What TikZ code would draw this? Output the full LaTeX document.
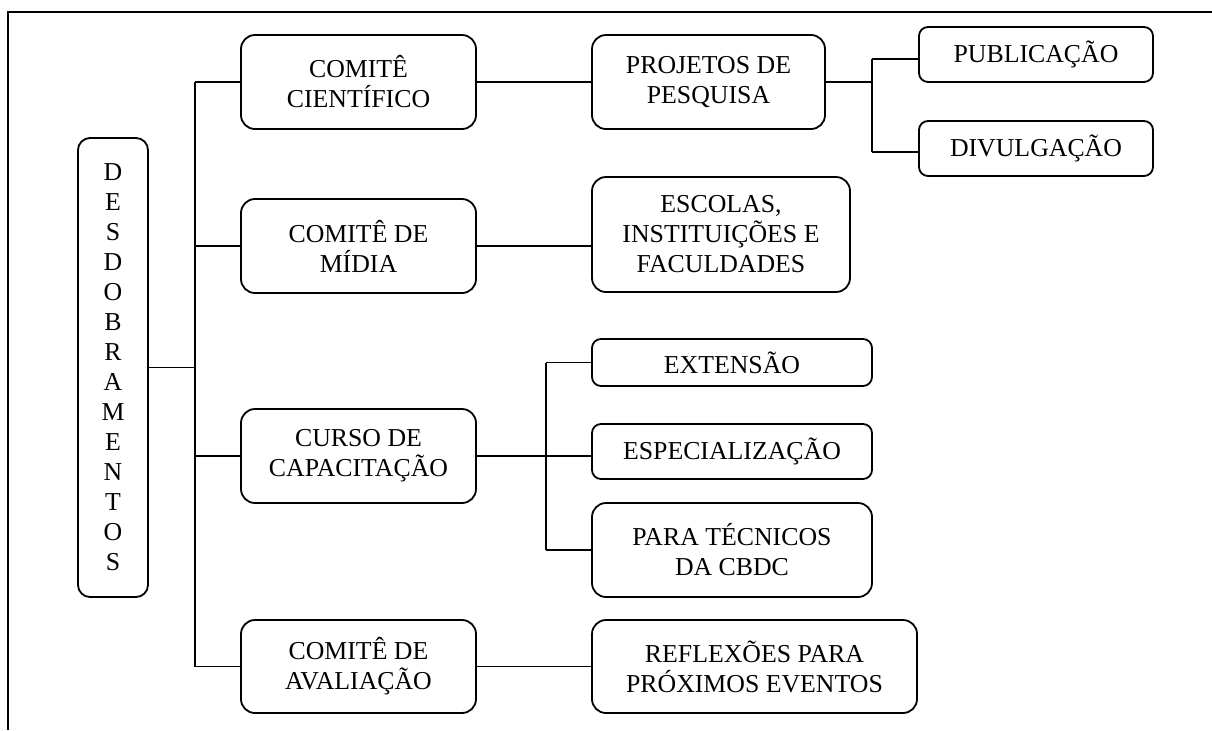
\documentclass[tikz,border=0pt]{standalone}
\usepackage{fontspec}
\setmainfont{Liberation Serif}

\begin{document}
\begin{tikzpicture}[x=0.5pt,y=-0.5pt,
    caixa/.style={draw,line width=0.9pt,rounded corners=7pt,align=center,inner sep=0pt,
      font=\fontsize{12.9}{15}\selectfont},
    caixap/.style={caixa,rounded corners=4.5pt},
    liga/.style={line width=0.8pt}]
    \useasboundingbox (0,0) rectangle (1212,730);
    \draw[line width=0.9pt] (8,730) -- (8,12) -- (1212,12);
    % raiz
    \node[caixa,rounded corners=6pt,minimum width=35pt,minimum height=229.5pt] (desd) at (113,367.5)
      {D\\E\\S\\D\\O\\B\\R\\A\\M\\E\\N\\T\\O\\S};
    % comites e curso
    \node[caixa,minimum width=117.5pt,minimum height=47pt] (cient) at (358.5,82) {COMITÊ\\CIENTÍFICO};
    \node[caixa,minimum width=117.5pt,minimum height=47pt] (midia) at (358.5,246) {COMITÊ DE\\MÍDIA};
    \node[caixa,minimum width=117.5pt,minimum height=47pt] (capac) at (358.5,456) {CURSO DE\\CAPACITAÇÃO};
    \node[caixa,minimum width=117.5pt,minimum height=46.5pt] (aval) at (358.5,666.5) {COMITÊ DE\\AVALIAÇÃO};
    % segundo nivel
    \node[caixa,minimum width=116.5pt,minimum height=47pt] (proj) at (708.5,82) {PROJETOS DE\\PESQUISA};
    \node[caixa,minimum width=129pt,minimum height=57.5pt] (escol) at (721,234.5) {ESCOLAS,\\INSTITUIÇÕES E\\FACULDADES};
    \node[caixap,minimum width=140pt,minimum height=23.5pt] (ext) at (732,362.5) {EXTENSÃO};
    \node[caixap,minimum width=140pt,minimum height=27.5pt] (espec) at (732,451.5) {ESPECIALIZAÇÃO};
    \node[caixa,minimum width=140pt,minimum height=47pt] (tecn) at (732,550) {PARA TÉCNICOS\\DA CBDC};
    \node[caixa,minimum width=162.5pt,minimum height=46.5pt] (refl) at (754.5,666.5) {REFLEXÕES PARA\\PRÓXIMOS EVENTOS};
    \node[caixap,minimum width=117pt,minimum height=27.5pt] (publ) at (1036,54.5) {PUBLICAÇÃO};
    \node[caixap,minimum width=117pt,minimum height=27.5pt] (divul) at (1036,148.5) {DIVULGAÇÃO};
    % ligacoes
    \coordinate (tronco) at (195,363);
    \coordinate (rcap) at (546,456);
    \coordinate (rproj) at (872,82);
    \coordinate (rpub) at (872,59);
    \coordinate (rdiv) at (872,152);
    \draw[liga] (desd.east) -- (tronco |- desd.east);
    \draw[liga] (tronco |- cient.west) -- (tronco |- aval.west);
    \foreach \n in {cient,midia,capac,aval}
      \draw[liga] (tronco |- \n.west) -- (\n.west);
    \draw[liga] (cient.east) -- (proj.west);
    \draw[liga] (midia.east) -- (escol.west |- midia.east);
    \draw[liga] (aval.east) -- (refl.west);
    \draw[liga] (capac.east) -- (espec.west |- capac.east);
    \draw[liga] (rcap |- ext.west) -- (rcap |- tecn.west);
    \draw[liga] (rcap |- ext.west) -- (ext.west);
    \draw[liga] (rcap |- tecn.west) -- (tecn.west);
    \draw[liga] (proj.east) -- (rproj);
    \draw[liga] (rpub) -- (rdiv);
    \draw[liga] (rpub) -- (publ.west |- rpub);
    \draw[liga] (rdiv) -- (divul.west |- rdiv);
\end{tikzpicture}
\end{document}
